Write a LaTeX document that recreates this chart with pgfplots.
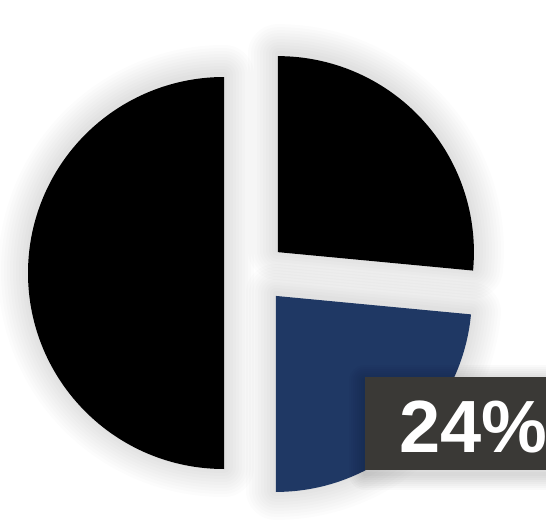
\documentclass[border=0pt]{standalone}
\usepackage{pgfplots}
\pgfplotsset{compat=1.18}
\usepackage{pgfplotstable}
\usepackage{fontspec}
\setmainfont{Liberation Sans}
\definecolor{pieblue}{HTML}{1F3864}
\definecolor{boxgray}{HTML}{3A3936}
\pgfplotstableread{
label value
A 26.5
B 23.5
C 50
}\piedata
\pgfplotstablegetelem{0}{value}\of\piedata \let\vA\pgfplotsretval
\pgfplotstablegetelem{1}{value}\of\piedata \let\vB\pgfplotsretval
\pgfplotstablegetelem{2}{value}\of\piedata \let\vC\pgfplotsretval
\pgfmathsetmacro\aA{90}
\pgfmathsetmacro\aB{\aA-3.6*\vA}
\pgfmathsetmacro\aC{\aB-3.6*\vB}
\pgfmathsetmacro\aD{\aC-3.6*\vC}
\pgfmathsetmacro\mA{(\aA+\aB)/2}
\pgfmathsetmacro\mB{(\aB+\aC)/2}
\pgfmathsetmacro\mC{(\aC+\aD)/2}
\newcommand\slicepath[3]{(axis cs:255,258) -- ++(#1:98pt) arc[start angle=#1, end angle=#2, radius=98pt] -- cycle}
\newcommand\sliceshadow[3]{%
  \pgfplotsinvokeforeach{3,6,9,12,15,18,21,24,27,30}{%
    \draw[black, opacity=0.011, line width=##1pt, line join=round, shift={(#3:15.5pt)}, yshift=1pt] \slicepath{#1}{#2}{#3};
  }}
\newcommand\slice[4]{%
  \fill[#4, shift={(#3:15.5pt)}] \slicepath{#1}{#2}{#3};}
\begin{document}
\begin{tikzpicture}
\useasboundingbox (0,0) rectangle (273pt,265.5pt);
\clip (0,0) rectangle (273pt,265.5pt);
\begin{axis}[x=0.5pt, y=0.5pt, xmin=0, xmax=546, ymin=0, ymax=531,
  hide axis, at={(0,0)}, anchor=south west, clip=true]
\sliceshadow{\aA}{\aB}{\mA}
\sliceshadow{\aB}{\aC}{\mB}
\sliceshadow{\aC}{\aD}{\mC}
\slice{\aA}{\aB}{\mA}{black}
\slice{\aB}{\aC}{\mB}{pieblue}
\slice{\aC}{\aD}{\mC}{black}
\pgfplotsinvokeforeach{2,4,6,8,10,12,14,16}{%
  \draw[black, opacity=0.02, line width=#1pt, line join=round] (axis cs:365,57) rectangle (axis cs:600,150);
}
\fill[boxgray] (axis cs:365,61) rectangle (axis cs:600,154);
\node[anchor=base west, inner sep=0pt, text=white, font=\fontsize{37}{40}\selectfont\bfseries] at (axis cs:399,79) {24\%};
\end{axis}
\end{tikzpicture}
\end{document}
